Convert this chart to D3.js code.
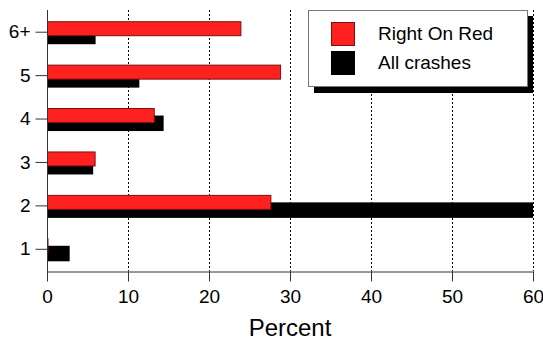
<!DOCTYPE html>
<html><head><meta charset="utf-8">
<script src="https://cdn.jsdelivr.net/npm/d3@7"></script>
<style>body{margin:0;background:#fff}svg{display:block;font-family:"Liberation Sans",Arial,sans-serif}</style>
</head><body><svg id="c" width="543" height="343"></svg>
<script>
const categories = ["6+","5","4","3","2","1"];
const rightOnRed = [24.0, 28.9, 13.3, 6.0, 27.7, 0.1];
const allCrashes = [6.0, 11.4, 14.4, 5.7, 60, 2.8];
const xTicks = [0,10,20,30,40,50,60];
const seriesNames = ["Right On Red","All crashes"];
const seriesColors = ["#ff2020","#000000"];

const svg = d3.select("#c");
const x = d3.scaleLinear().domain([0,60]).range([47,533]);
const y = d3.scaleBand().domain(categories).range([10.5,271]);
const cy = c => y(c) + y.bandwidth()/2;

// gridlines
svg.append("g").selectAll("line").data(xTicks.slice(1)).join("line")
  .attr("x1",d=>x(d)+0.5).attr("x2",d=>x(d)+0.5).attr("y1",10).attr("y2",271)
  .attr("stroke","#000").attr("stroke-width",1).attr("stroke-dasharray","2,2");

// black bars
svg.append("g").selectAll("rect").data(categories).join("rect")
  .attr("x",x(0)).attr("y",(c)=>cy(c)-3.5)
  .attr("width",(c,i)=>x(allCrashes[i])-x(0)).attr("height",15.5)
  .attr("fill",seriesColors[1]);
// red bars
svg.append("g").selectAll("rect").data(categories).join("rect")
  .attr("x",x(0)+0.5).attr("y",(c)=>cy(c)-11+0.5)
  .attr("width",(c,i)=>Math.max(0.5,x(rightOnRed[i])-x(0)-1)).attr("height",14)
  .attr("fill",seriesColors[0]).attr("stroke","#7a1010").attr("stroke-width",1);

// x axis
const xAxis = svg.append("g").attr("transform","translate(0,271.5)")
  .call(d3.axisBottom(x).tickValues(xTicks).tickSize(10).tickSizeOuter(0).tickPadding(8));
xAxis.attr("font-size",null).attr("font-family",null);
xAxis.select(".domain").attr("stroke","#333");
xAxis.selectAll(".tick line").attr("stroke","#333");
xAxis.selectAll("text").attr("font-size",19).attr("fill","#000");

// y axis
const yAxis = svg.append("g").attr("transform","translate(47.5,0)")
  .call(d3.axisLeft(y).tickSize(12).tickSizeOuter(0).tickPadding(5));
yAxis.attr("font-size",null).attr("font-family",null);
yAxis.select(".domain").attr("d","M0,10V281").attr("stroke","#333");
yAxis.selectAll(".tick line").attr("stroke","#333");
yAxis.selectAll("text").attr("font-size",19).attr("fill","#000");

svg.append("text").attr("x",x(30)).attr("y",336).attr("text-anchor","middle")
  .attr("font-size",24).attr("fill","#000").text("Percent");

// legend
const lg = svg.append("g");
lg.append("rect").attr("x",314).attr("y",16).attr("width",219).attr("height",77).attr("fill","#000");
lg.append("rect").attr("x",308.5).attr("y",10.5).attr("width",219).attr("height",76)
  .attr("fill","#fff").attr("stroke","#777");
seriesNames.forEach((n,i)=>{
  lg.append("rect").attr("x",331.5).attr("y",22.5+i*29).attr("width",23).attr("height",23)
    .attr("fill",seriesColors[i]).attr("stroke",i===0?"#7a1010":"#000");
  lg.append("text").attr("x",378).attr("y",40+i*29).attr("font-size",19).attr("fill","#000").text(n);
});
</script></body></html>
